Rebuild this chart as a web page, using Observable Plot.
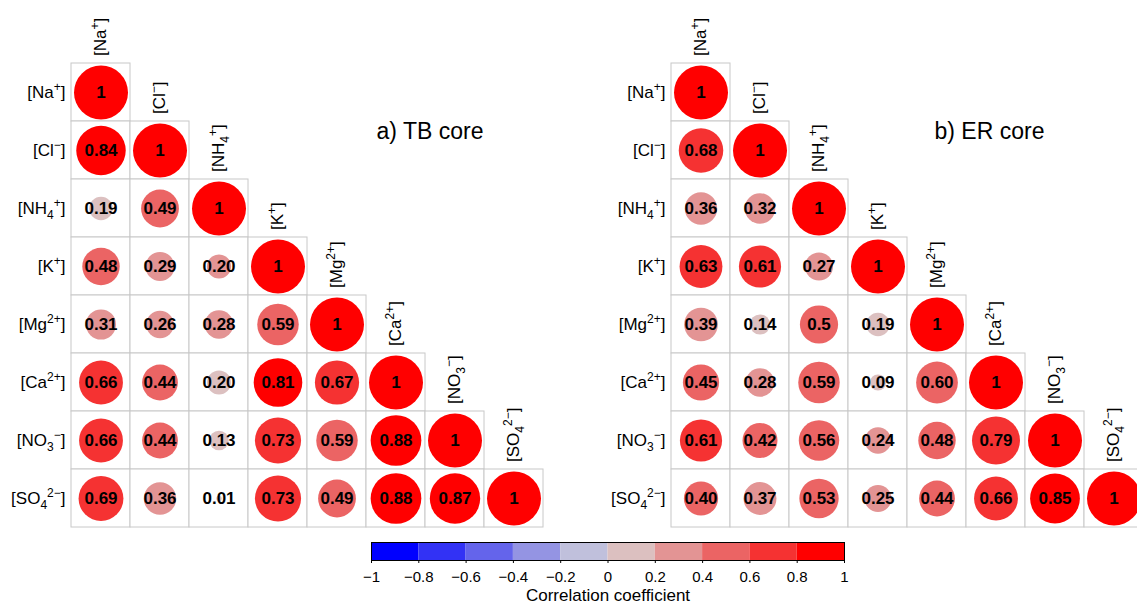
<!DOCTYPE html>
<html><head><meta charset="utf-8">
<script src="https://cdn.jsdelivr.net/npm/d3@7"></script>
<script src="https://cdn.jsdelivr.net/npm/@observablehq/plot@0.6"></script>
<style>
html,body{margin:0;padding:0;background:#fff;overflow:hidden;}
#root{position:relative;width:1137px;height:604px;overflow:hidden;font-family:"Liberation Sans",Arial,sans-serif;background:#fff;}
.panel{position:absolute;top:0;width:600px;height:534px;}
#legend{position:absolute;left:0;top:530px;width:1137px;height:74px;}
#root svg{max-width:none !important;}
</style></head><body>
<div id="root"><div id="left" class="panel" style="left:0"></div><div id="right" class="panel" style="left:600px"></div><div id="legend"></div></div>
<script>
// ---- data ----
const ionKeys = ["Na+","Cl-","NH4+","K+","Mg2+","Ca2+","NO3-","SO42-"];
const ionBase = ["Na","Cl","NH","K","Mg","Ca","NO","SO"];
const ionSub  = ["","","4","","","","3","4"];
const ionSup  = ["+","−","+","+","2+","2+","−","2−"];

const tbValues = [
  [1],
  [0.84, 1],
  [0.19, 0.49, 1],
  [0.48, 0.29, 0.201, 1],
  [0.31, 0.26, 0.28, 0.59, 1],
  [0.66, 0.44, 0.198, 0.81, 0.67, 1],
  [0.66, 0.44, 0.13, 0.73, 0.59, 0.88, 1],
  [0.69, 0.36, 0.01, 0.73, 0.49, 0.88, 0.87, 1]
];
const tbLabels = [
  ["1"],
  ["0.84","1"],
  ["0.19","0.49","1"],
  ["0.48","0.29","0.20","1"],
  ["0.31","0.26","0.28","0.59","1"],
  ["0.66","0.44","0.20","0.81","0.67","1"],
  ["0.66","0.44","0.13","0.73","0.59","0.88","1"],
  ["0.69","0.36","0.01","0.73","0.49","0.88","0.87","1"]
];
const erValues = [
  [1],
  [0.68, 1],
  [0.36, 0.32, 1],
  [0.63, 0.61, 0.27, 1],
  [0.39, 0.14, 0.5, 0.19, 1],
  [0.45, 0.28, 0.59, 0.09, 0.598, 1],
  [0.61, 0.42, 0.56, 0.24, 0.48, 0.79, 1],
  [0.402, 0.37, 0.53, 0.25, 0.44, 0.66, 0.85, 1]
];
const erLabels = [
  ["1"],
  ["0.68","1"],
  ["0.36","0.32","1"],
  ["0.63","0.61","0.27","1"],
  ["0.39","0.14","0.5","0.19","1"],
  ["0.45","0.28","0.59","0.09","0.60","1"],
  ["0.61","0.42","0.56","0.24","0.48","0.79","1"],
  ["0.40","0.37","0.53","0.25","0.44","0.66","0.85","1"]
];
const titles = ["a) TB core", "b) ER core"];

const colorBreaks = [-0.8,-0.6,-0.4,-0.2,0,0.2,0.4,0.6,0.8];
const colorRange = ["#0000FF","#3232F5","#6464EB","#9494E3","#C0C0DC","#DCC0C0","#E39494","#EB6464","#F53232","#FF0000"];
const legendBreaks = [-1,-0.8,-0.6,-0.4,-0.2,0,0.2,0.4,0.6,0.8,1];
const legendTickLabels = ["−1","−0.8","−0.6","−0.4","−0.2","0","0.2","0.4","0.6","0.8","1"];
const legendTitle = "Correlation coefficient";

const FONT = "'Liberation Sans', Arial, Helvetica, sans-serif";
const colorScale = {type: "threshold", domain: colorBreaks, range: colorRange};

function richLabels(svg) {
  const ns = "http://www.w3.org/2000/svg";
  svg.querySelectorAll("text").forEach(t => {
    const i = ionKeys.indexOf(t.textContent);
    if (i < 0) return;
    t.textContent = "";
    const add = (s, dy, size) => {
      const ts = document.createElementNS(ns, "tspan");
      ts.textContent = s;
      if (dy) ts.setAttribute("dy", dy);
      if (size) ts.setAttribute("font-size", size);
      t.appendChild(ts);
    };
    let shift = 0;
    add("[" + ionBase[i]);
    if (ionSub[i]) { add(ionSub[i], 5 - shift, 12); shift = 5; }
    if (ionSup[i]) { add(ionSup[i], -7 - shift, 12); shift = -7; }
    add("]", -shift);
  });
  return svg;
}

function panel(values, labels, title, titleDx) {
  const cells = [];
  values.forEach((row, i) => row.forEach((v, j) =>
    cells.push({row: ionKeys[i], col: ionKeys[j], v, label: labels[i][j]})));
  const svg = Plot.plot({
    width: 600, height: 534,
    marginLeft: 71, marginRight: 57, marginTop: 59, marginBottom: 4,
    style: {fontFamily: FONT, background: "transparent", color: "black", maxWidth: "none"},
    x: {domain: ionKeys, padding: 0, axis: null},
    y: {domain: ionKeys, padding: 0, axis: null},
    r: {type: "sqrt", domain: [0, 1], range: [0, 27]},
    color: colorScale,
    marks: [
      Plot.cell(cells, {x: "col", y: "row", fill: "white", stroke: "#c8c8c8", strokeWidth: 1, inset: 0}),
      Plot.dot(cells, {x: "col", y: "row", r: d => Math.abs(d.v), fill: "v"}),
      Plot.text(cells, {x: "col", y: "row", text: "label", fontWeight: "bold", fontSize: 17, fill: "black"}),
      Plot.text(ionKeys, {y: d => d, frameAnchor: "left", dx: -6, textAnchor: "end", text: d => d, fontSize: 17, fill: "black"}),
      Plot.text(ionKeys, {x: d => d, y: d => d, rotate: -90, textAnchor: "start", dy: -36.5, text: d => d, fontSize: 17, fill: "black"}),
      Plot.text([title], {frameAnchor: "top-left", dx: titleDx, dy: 72, textAnchor: "start", lineAnchor: "middle", text: d => d, fontSize: 23, fill: "black"})
    ]
  });
  return richLabels(svg);
}

document.getElementById("left").appendChild(panel(tbValues, tbLabels, titles[0], 305));
document.getElementById("right").appendChild(panel(erValues, erLabels, titles[1], 263));

const bins = colorRange.map((c, i) => ({lo: legendBreaks[i], hi: legendBreaks[i + 1]}));
const legend = Plot.plot({
  width: 1137, height: 74,
  marginLeft: 371, marginRight: 293, marginTop: 12, marginBottom: 44,
  style: {fontFamily: FONT, background: "transparent", color: "black", maxWidth: "none"},
  x: {domain: [-1, 1]},
  color: colorScale,
  marks: [
    Plot.rect(bins, {x1: "lo", x2: "hi", fill: d => (d.lo + d.hi) / 2}),
    Plot.frame({stroke: "black", strokeWidth: 1}),
    Plot.axisX({ticks: legendBreaks,
      tickFormat: d => legendTickLabels[legendBreaks.findIndex(b => Math.abs(b - d) < 1e-9)],
      tickSize: 3, tickPadding: 8, fontSize: 15, label: null}),
    Plot.text([legendTitle], {frameAnchor: "bottom", lineAnchor: "middle", dy: 35, text: d => d, fontSize: 17, fill: "black"})
  ]
});
document.getElementById("legend").appendChild(legend);
</script>
</body></html>
